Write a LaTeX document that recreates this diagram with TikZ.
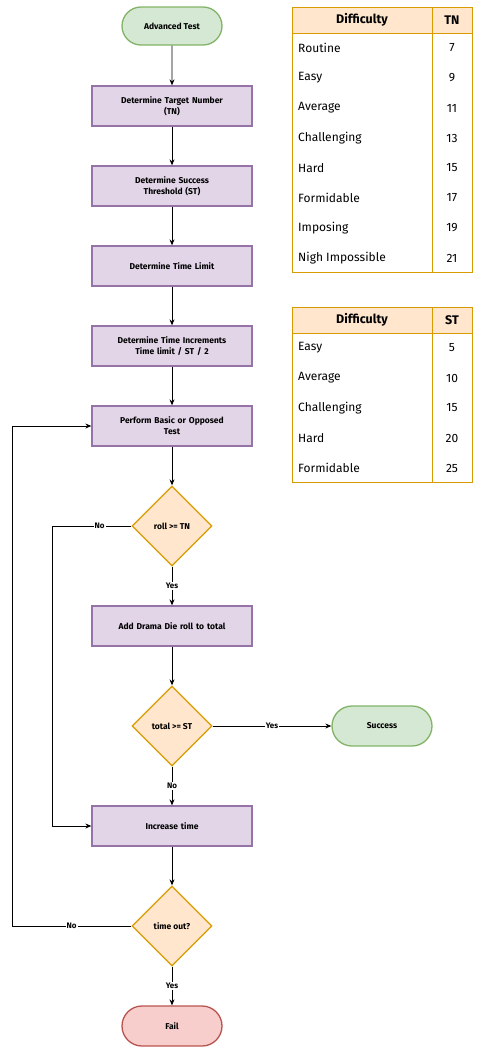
\documentclass[tikz,border=0pt]{standalone}
\usepackage{fontspec}
\setmainfont{Fira Sans}
\usetikzlibrary{shapes.geometric,shapes.misc,arrows.meta,positioning}
\definecolor{gfill}{HTML}{D5E8D4}\definecolor{gline}{HTML}{82B366}
\definecolor{pfill}{HTML}{E1D5E7}\definecolor{pline}{HTML}{9673A6}
\definecolor{ofill}{HTML}{FFE6CC}\definecolor{oline}{HTML}{D79B00}
\definecolor{rfill}{HTML}{F8CECC}\definecolor{rline}{HTML}{B85450}
\tikzset{
  term/.style={rounded rectangle, minimum width=100pt, minimum height=38pt, line width=1.3pt, font=\bfseries\fontsize{8.5}{10}\selectfont, inner sep=0pt},
  greenterm/.style={term, draw=gline, fill=gfill},
  redterm/.style={term, draw=rline, fill=rfill},
  procbox/.style={rectangle, draw=pline, fill=pfill, line width=1.3pt, minimum width=160pt, minimum height=40pt, text width=156pt, align=center, font=\bfseries\fontsize{8.5}{11}\selectfont, inner sep=0pt},
  decision/.style={diamond, draw=oline, fill=ofill, line width=1.3pt, minimum width=80pt, minimum height=80pt, aspect=1, font=\bfseries\fontsize{8.5}{10}\selectfont, inner sep=0pt},
  flow/.style={-{Stealth[length=6pt,width=5pt]}, line width=0.9pt},
  elabel/.style={fill=white, font=\bfseries\fontsize{8}{9}\selectfont, inner sep=1pt},
  tline/.style={draw=oline, line width=1pt},
  tcell/.style={font=\fontsize{12}{14}\selectfont, inner sep=0pt, anchor=west},
  tval/.style={font=\fontsize{12}{14}\selectfont, inner sep=0pt},
  thead/.style={font=\bfseries\fontsize{12.5}{14}\selectfont, inner sep=0pt},
}
\begin{document}
\begin{tikzpicture}[x=1pt,y=-1pt]
\useasboundingbox (0,0) rectangle (478,1052);
% flowchart nodes
\node[greenterm] (start) at (172,26) {Advanced Test};
\node[procbox] (tn) at (172,106) {Determine Target Number\\(TN)};
\node[procbox] (st) at (172,186) {Determine Success\\Threshold (ST)};
\node[procbox] (tl) at (172,266) {Determine Time Limit};
\node[procbox] (ti) at (172,346) {Determine Time Increments\\Time limit / ST / 2};
\node[procbox] (perf) at (172,426) {Perform Basic or Opposed\\Test};
\node[decision] (d1) at (172,526) {roll >= TN};
\node[procbox] (drama) at (172,626) {Add Drama Die roll to total};
\node[decision] (d2) at (172,726) {total >= ST};
\node[greenterm, minimum height=40pt] (succ) at (382,726) {Success};
\node[procbox] (inc) at (172,826) {Increase time};
\node[decision] (d3) at (172,926) {time out?};
\node[redterm, minimum height=40pt] (fail) at (172,1026) {Fail};
\coordinate (c1a) at (52,526);
\coordinate (c1b) at (52,826);
\coordinate (c3a) at (12,926);
\coordinate (c3b) at (12,426);
% connectors
\draw[flow] (start) -- (tn);
\draw[flow] (tn) -- (st);
\draw[flow] (st) -- (tl);
\draw[flow] (tl) -- (ti);
\draw[flow] (ti) -- (perf);
\draw[flow] (perf) -- (d1);
\draw[flow] (d1) -- node[elabel, pos=0.5] {Yes} (drama);
\draw[flow] (d1.west) -- node[elabel, pos=0.4] {No} (c1a) -- (c1b) -- (inc.west);
\draw[flow] (drama) -- (d2);
\draw[flow] (d2.east) -- node[elabel, pos=0.5] {Yes} (succ.west);
\draw[flow] (d2) -- node[elabel, pos=0.5] {No} (inc);
\draw[flow] (inc) -- (d3);
\draw[flow] (d3.west) -- node[elabel, pos=0.5] {No} (c3a) -- (c3b) -- (perf.west);
\draw[flow] (d3) -- node[elabel, pos=0.5] {Yes} (fail);
% table 1
\fill[ofill] (292,7) rectangle (472,33);
\draw[tline] (292,7) rectangle (472,272);
\draw[tline] (292,33) -- (472,33);
\draw[tline] (432,7) -- (432,272);
\node[thead] (h1a) at (362,20) {Difficulty};
\node[thead] (h1b) at (452,20) {TN};
\node[tcell] (r11) at (298,48) {Routine};        \node[tval] (v11) at (452,48) {7};
\node[tcell] (r12) at (298,78) {Easy};           \node[tval] (v12) at (452,78) {9};
\node[tcell] (r13) at (298,108) {Average};       \node[tval] (v13) at (452,108) {11};
\node[tcell] (r14) at (298,138) {Challenging};   \node[tval] (v14) at (452,138) {13};
\node[tcell] (r15) at (298,168) {Hard};          \node[tval] (v15) at (452,168) {15};
\node[tcell] (r16) at (298,198) {Formidable};    \node[tval] (v16) at (452,198) {17};
\node[tcell] (r17) at (298,228) {Imposing};      \node[tval] (v17) at (452,228) {19};
\node[tcell] (r18) at (298,258) {Nigh Impossible}; \node[tval] (v18) at (452,258) {21};
% table 2
\fill[ofill] (292,307) rectangle (472,333);
\draw[tline] (292,307) rectangle (472,482);
\draw[tline] (292,333) -- (472,333);
\draw[tline] (432,307) -- (432,482);
\node[thead] (h2a) at (362,320) {Difficulty};
\node[thead] (h2b) at (452,320) {ST};
\node[tcell] (r21) at (298,348) {Easy};         \node[tval] (v21) at (452,348) {5};
\node[tcell] (r22) at (298,378) {Average};      \node[tval] (v22) at (452,378) {10};
\node[tcell] (r23) at (298,408) {Challenging};  \node[tval] (v23) at (452,408) {15};
\node[tcell] (r24) at (298,438) {Hard};         \node[tval] (v24) at (452,438) {20};
\node[tcell] (r25) at (298,468) {Formidable};   \node[tval] (v25) at (452,468) {25};
\end{tikzpicture}
\end{document}
